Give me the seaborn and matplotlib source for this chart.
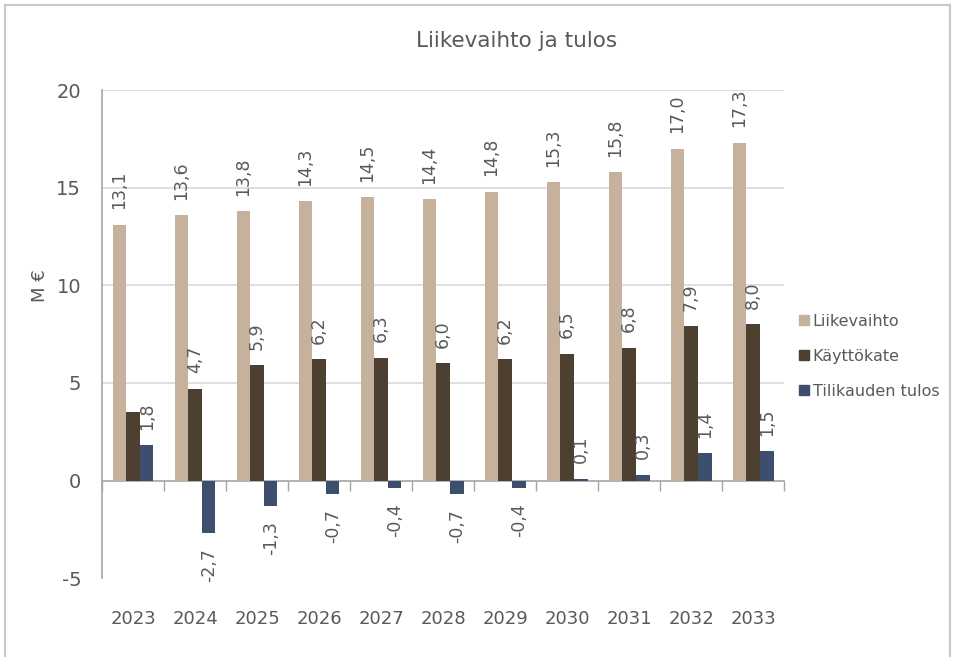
import pandas as pd
import matplotlib
matplotlib.use("Agg")
import matplotlib.pyplot as plt
import matplotlib.patches as mpatches
import seaborn as sns

# data
years = ["2023", "2024", "2025", "2026", "2027", "2028",
         "2029", "2030", "2031", "2032", "2033"]
liikevaihto = [13.1, 13.6, 13.8, 14.3, 14.5, 14.4, 14.8, 15.3, 15.8, 17.0, 17.3]
kayttokate = [3.5, 4.7, 5.9, 6.2, 6.3, 6.0, 6.2, 6.5, 6.8, 7.9, 8.0]
tulos = [1.8, -2.7, -1.3, -0.7, -0.4, -0.7, -0.4, 0.1, 0.3, 1.4, 1.5]
series = ["Liikevaihto", "Käyttökate", "Tilikauden tulos"]
colors = ["#C5B19C", "#4E4030", "#3E4E6E"]
yticks = [-5, 0, 5, 10, 15, 20]

df = pd.DataFrame({
    "year": years * 3,
    "value": liikevaihto + kayttokate + tulos,
    "series": [series[0]] * 11 + [series[1]] * 11 + [series[2]] * 11,
})

sns.set_style("white")
plt.rcParams['font.family'] = ['DejaVu Sans']
text_col = "#595959"
line_col = "#A6A6A6"

fig = plt.figure(figsize=(9.57, 6.57), dpi=100)
ax = fig.add_axes([0.1066, 0.120, 0.7127, 0.743])

sns.barplot(data=df, x="year", y="value", hue="series", hue_order=series,
            palette=colors, saturation=1, width=0.66, linewidth=0, ax=ax)
ax.legend_.remove()

# data labels, rotated like in the original (Käyttökate 2023 has none)
for i, cont in enumerate(ax.containers):
    vals = [liikevaihto, kayttokate, tulos][i]
    labs = [f"{v:.1f}".replace(".", ",") for v in vals]
    if i == 1:
        labs[0] = ""
    ax.bar_label(cont, labels=labs, rotation=90, padding=11,
                 fontsize=12.5, color=text_col)

ax.set_ylim(-5, 20)
ax.set_yticks(yticks)
ax.set_yticklabels([str(t) for t in yticks], fontsize=14, color=text_col)
ax.set_xlim(-0.5, 10.5)
ax.set_xlabel("")
ax.set_ylabel("M €", fontsize=13, color=text_col)
ax.yaxis.set_label_coords(-0.078, 0.6)
ax.tick_params(axis="x", length=0, labelsize=13, labelcolor=text_col, pad=23)
ax.tick_params(axis="y", length=7, width=1, color=line_col, direction="out", pad=8)

for y in yticks[2:]:
    ax.axhline(y, color="#D9D9D9", lw=1.2, zorder=0)
ax.set_axisbelow(True)

for s in ["top", "right", "bottom"]:
    ax.spines[s].set_visible(False)
ax.spines["left"].set_color(line_col)
ax.spines["left"].set_linewidth(1.2)

# zero line with boundary ticks between years
zero = ax.secondary_xaxis(0.2)
zero.set_xticks([i - 0.5 for i in range(len(years) + 1)])
zero.set_xticklabels([])
zero.tick_params(length=7, color=line_col, width=1, direction="out")
zero.spines["bottom"].set_color(line_col)
zero.spines["bottom"].set_linewidth(1.2)

handles = [mpatches.Patch(color=c, label=s) for c, s in zip(colors, series)]
fig.legend(handles=handles, loc="center left", bbox_to_anchor=(0.82, 0.458),
           frameon=False, fontsize=11.5, labelcolor=text_col,
           handlelength=0.6, handleheight=0.6, handletextpad=0.25,
           labelspacing=1.25)

fig.text(0.54, 0.937, "Liikevaihto ja tulos", ha="center", va="center",
         fontsize=15.5, color=text_col)

fig.patches.append(mpatches.Rectangle((0.005, -0.01), 0.988, 1.002,
                                      transform=fig.transFigure, fill=False,
                                      edgecolor="#C8C8C8", lw=1.5))

fig.savefig("out.png", dpi=100)
